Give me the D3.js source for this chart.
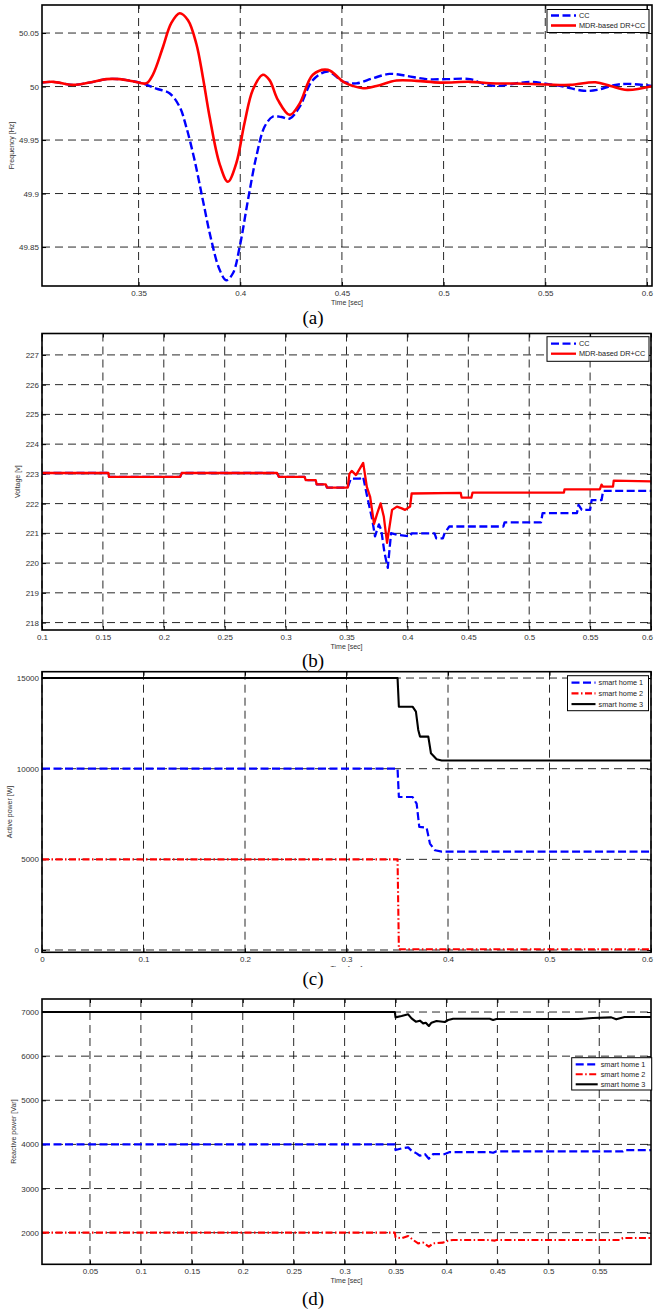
<!DOCTYPE html>
<html>
<head>
<meta charset="utf-8">
<script src="https://cdn.jsdelivr.net/npm/d3@7"></script>
<style>
  body { margin: 0; background: #fff; }
  text { font-family: "Liberation Sans", Arial, sans-serif; }
  .tick text { font-size: 8px; fill: #333; }
  .tick line { stroke: #000; }
  .axisLabel { font-size: 7px; fill: #333; }
  .legendText { font-size: 7.3px; fill: #222; }
  .panelTag { font-family: "Liberation Serif", "Times New Roman", serif; font-size: 19px; fill: #000; }
</style>
</head>
<body>
<div id="my_dataviz"></div>
<script>
// ---- (a) frequency ----
var freqTimeMDR = [0.3025, 0.308, 0.3177, 0.3259, 0.3341, 0.3407, 0.3472, 0.3538, 0.357, 0.362, 0.366, 0.3702, 0.3743, 0.3784, 0.3816, 0.3849, 0.3898, 0.3939, 0.398, 0.4021, 0.4062, 0.4111, 0.4144, 0.4185, 0.4243, 0.4292, 0.4357, 0.4431, 0.4505, 0.4554, 0.4604, 0.467, 0.4768, 0.4867, 0.4982, 0.513, 0.5229, 0.536, 0.5508, 0.5623, 0.5747, 0.5821, 0.5903, 0.6025];
var freqMDR = [50.0037, 50.0044, 50.0016, 50.0037, 50.0069, 50.0069, 50.005, 50.003, 50.011, 50.037, 50.059, 50.0685, 50.062, 50.04, 50.009, 49.972, 49.928, 49.911, 49.928, 49.966, 49.997, 50.011, 50.006, 49.9875, 49.9735, 49.984, 50.011, 50.0156, 50.0047, 50.0006, 49.9984, 50.0006, 50.0056, 50.0053, 50.0037, 50.0044, 50.0031, 50.0028, 50.0019, 50.0016, 50.004, 50.0006, 49.9969, 50.0003];
var freqTimeCC = [0.3025, 0.308, 0.3177, 0.3259, 0.3341, 0.3407, 0.3472, 0.352, 0.3587, 0.3652, 0.3702, 0.3734, 0.3775, 0.3816, 0.3857, 0.3898, 0.3931, 0.3964, 0.3997, 0.4038, 0.4079, 0.412, 0.4161, 0.4202, 0.4243, 0.4292, 0.4357, 0.4431, 0.4505, 0.4571, 0.4653, 0.4735, 0.4817, 0.4916, 0.5015, 0.513, 0.5196, 0.5262, 0.536, 0.5426, 0.5508, 0.559, 0.5689, 0.5755, 0.5837, 0.5903, 0.6025];
var freqCC = [50.0037, 50.0044, 50.0016, 50.0037, 50.0069, 50.0069, 50.005, 50.003, 49.998, 49.9938, 49.981, 49.9626, 49.9315, 49.894, 49.857, 49.829, 49.819, 49.8255, 49.85, 49.894, 49.9346, 49.9626, 49.972, 49.9715, 49.97, 49.981, 50.006, 50.014, 50.0047, 50.003, 50.0078, 50.0118, 50.01, 50.0069, 50.0069, 50.0069, 50.0025, 50.0006, 50.0031, 50.0044, 50.0025, 50.0, 49.996, 49.9969, 50.0012, 50.0025, 50.0006];
var freqXTicks = [0.35, 0.4, 0.45, 0.5, 0.55, 0.6];
var freqYTicks = [49.85, 49.9, 49.95, 50, 50.05];

// ---- (b) voltage ----
var voltTimeMDR = [0.1, 0.1545, 0.155, 0.2134, 0.2148, 0.293, 0.2945, 0.3156, 0.3165, 0.3247, 0.3255, 0.3329, 0.334, 0.351, 0.3524, 0.3543, 0.3578, 0.3637, 0.3667, 0.3694, 0.3726, 0.3753, 0.378, 0.3806, 0.3833, 0.3874, 0.3914, 0.3954, 0.3981, 0.4022, 0.4035, 0.4438, 0.4445, 0.4525, 0.4535, 0.5285, 0.529, 0.558, 0.5594, 0.5605, 0.5688, 0.5694, 0.6];
var voltMDR = [223.03, 223.03, 222.9, 222.9, 223.03, 223.03, 222.9, 222.9, 222.79, 222.79, 222.65, 222.65, 222.54, 222.54, 223.0, 223.1, 222.96, 223.37, 222.56, 222.23, 221.32, 221.68, 222.01, 221.57, 220.68, 221.79, 221.9, 221.84, 221.79, 221.9, 222.34, 222.36, 222.2, 222.2, 222.37, 222.37, 222.48, 222.48, 222.64, 222.57, 222.57, 222.77, 222.75];
var voltTimeCC = [0.1, 0.1545, 0.155, 0.2134, 0.2148, 0.293, 0.2945, 0.3156, 0.3165, 0.3247, 0.3255, 0.3329, 0.334, 0.351, 0.3535, 0.361, 0.3637, 0.3667, 0.3712, 0.3734, 0.3766, 0.3785, 0.3812, 0.3839, 0.3866, 0.3914, 0.4022, 0.4035, 0.4223, 0.4237, 0.4291, 0.4305, 0.4344, 0.4788, 0.4798, 0.5097, 0.511, 0.5392, 0.5405, 0.5432, 0.55, 0.5513, 0.5594, 0.5607, 0.6];
var voltCC = [223.03, 223.03, 222.9, 222.9, 223.03, 223.03, 222.9, 222.9, 222.79, 222.79, 222.65, 222.65, 222.54, 222.54, 222.84, 222.84, 222.9, 222.29, 221.45, 220.9, 221.3, 221.12, 220.34, 219.84, 221.01, 220.95, 220.9, 221.0, 221.0, 220.83, 220.83, 221.0, 221.23, 221.23, 221.37, 221.37, 221.68, 221.68, 221.96, 221.79, 221.79, 222.12, 222.12, 222.43, 222.43];
var voltXTicks = [0.1, 0.15, 0.2, 0.25, 0.3, 0.35, 0.4, 0.45, 0.5, 0.55, 0.6];
var voltYTicks = [218, 219, 220, 221, 222, 223, 224, 225, 226, 227];

// ---- (c) active power ----
var pTime1 = [0, 0.3503, 0.3516, 0.3651, 0.3691, 0.3717, 0.3789, 0.3822, 0.3872, 0.3938, 0.6];
var pHome1 = [10000, 10000, 8440, 8440, 8070, 6790, 6750, 5870, 5500, 5430, 5430];
var pTime2 = [0, 0.3503, 0.3516, 0.6];
var pHome2 = [5000, 5000, 40, 40];
var pTime3 = [0, 0.3503, 0.3516, 0.3651, 0.3684, 0.3707, 0.3724, 0.3806, 0.3832, 0.3888, 0.3938, 0.6];
var pHome3 = [15000, 15000, 13420, 13420, 13150, 12140, 11770, 11770, 10850, 10520, 10450, 10450];
var pXTicks = [0, 0.1, 0.2, 0.3, 0.4, 0.5, 0.6];
var pYTicks = [0, 5000, 10000, 15000];

// ---- (d) reactive power ----
var qTime1 = [0.0029, 0.3493, 0.35, 0.3559, 0.3624, 0.3657, 0.3706, 0.3739, 0.3788, 0.3827, 0.3869, 0.3984, 0.4033, 0.4425, 0.4458, 0.449, 0.5732, 0.5748, 0.6008];
var qHome1 = [4000, 4000, 3872, 3909, 3932, 3857, 3796, 3743, 3781, 3675, 3781, 3781, 3826, 3826, 3811, 3842, 3842, 3872, 3872];
var qTime2 = [0.0029, 0.3493, 0.35, 0.3559, 0.3624, 0.3673, 0.3722, 0.3771, 0.3827, 0.3869, 0.3967, 0.4016, 0.4065, 0.4425, 0.4474, 0.449, 0.5699, 0.5732, 0.6008];
var qHome2 = [2000, 2000, 1894, 1872, 1925, 1834, 1758, 1774, 1683, 1758, 1774, 1819, 1834, 1834, 1819, 1834, 1834, 1879, 1879];
var qTime3 = [0.0029, 0.3493, 0.35, 0.3559, 0.3624, 0.3657, 0.3699, 0.3739, 0.3771, 0.3797, 0.3827, 0.3853, 0.3902, 0.3984, 0.4016, 0.4065, 0.4425, 0.4458, 0.449, 0.5291, 0.534, 0.5438, 0.5618, 0.5667, 0.5748, 0.6008];
var qHome3 = [7000, 7000, 6879, 6909, 6947, 6857, 6781, 6804, 6743, 6758, 6683, 6758, 6796, 6774, 6819, 6849, 6849, 6819, 6842, 6842, 6849, 6864, 6879, 6834, 6887, 6887];
var qXTicks = [0.05, 0.1, 0.15, 0.2, 0.25, 0.3, 0.35, 0.4, 0.45, 0.5, 0.55];
var qYTicks = [2000, 3000, 4000, 5000, 6000, 7000];

// line styles
var blue = "#0000ff", red = "#ff0000";
var dashBlue = "8,3.5", dashDot = "7,2.5,1.5,2.5";

var svg = d3.select("#my_dataviz")
  .append("svg")
    .attr("width", 655)
    .attr("height", 1310);

var fmt = function(d) { return String(+d.toFixed(4)); };

function drawPanel(cfg) {
  var x = d3.scaleLinear().domain(cfg.xDomain).range([cfg.x0, cfg.x1]);
  var y = d3.scaleLinear().domain(cfg.yDomain).range([cfg.y1, cfg.y0]);
  var g = svg.append("g");

  g.append("clipPath").attr("id", "clip" + cfg.id)
    .append("rect")
      .attr("x", cfg.x0).attr("y", cfg.y0)
      .attr("width", cfg.x1 - cfg.x0).attr("height", cfg.y1 - cfg.y0);

  // dashed grid
  g.selectAll(".vgrid")
    .data(cfg.xTicks)
    .enter()
    .append("line")
      .attr("x1", function(d) { return x(d); })
      .attr("x2", function(d) { return x(d); })
      .attr("y1", cfg.y0)
      .attr("y2", cfg.y1)
      .attr("stroke", "#111")
      .attr("stroke-width", 0.9)
      .attr("stroke-dasharray", "8,5");
  g.selectAll(".hgrid")
    .data(cfg.yTicks)
    .enter()
    .append("line")
      .attr("x1", cfg.x0)
      .attr("x2", cfg.x1)
      .attr("y1", function(d) { return y(d); })
      .attr("y2", function(d) { return y(d); })
      .attr("stroke", "#111")
      .attr("stroke-width", 0.9)
      .attr("stroke-dasharray", "8,5");

  // axes (inward ticks)
  var xAxis = g.append("g")
    .attr("transform", "translate(0," + cfg.y1 + ")")
    .call(d3.axisBottom(x).tickValues(cfg.xTicks).tickSizeInner(-4).tickSizeOuter(0).tickPadding(4).tickFormat(fmt));
  xAxis.select(".domain").remove();
  // last label sits at the right edge, nudge it in
  xAxis.selectAll(".tick text")
    .attr("dx", function(d) { return x(d) > cfg.x1 - 3 ? -4 : 0; });

  g.append("g")
    .attr("transform", "translate(" + cfg.x0 + ",0)")
    .call(d3.axisLeft(y).tickValues(cfg.yTicks).tickSizeInner(-4).tickSizeOuter(0).tickPadding(3).tickFormat(fmt))
    .call(function(a) { a.select(".domain").remove(); });
  g.append("g")
    .attr("transform", "translate(0," + cfg.y0 + ")")
    .call(d3.axisTop(x).tickValues(cfg.xTicks).tickSizeInner(-4).tickSizeOuter(0).tickFormat(""))
    .call(function(a) { a.select(".domain").remove(); });
  g.append("g")
    .attr("transform", "translate(" + cfg.x1 + ",0)")
    .call(d3.axisRight(y).tickValues(cfg.yTicks).tickSizeInner(-4).tickSizeOuter(0).tickFormat(""))
    .call(function(a) { a.select(".domain").remove(); });
  g.selectAll(".tick text").attr("font-family", null);

  // series
  var line = d3.line()
    .x(function(d) { return x(d[0]); })
    .y(function(d) { return y(d[1]); })
    .curve(cfg.curve || d3.curveLinear);
  cfg.series.forEach(function(s) {
    g.append("path")
      .datum(d3.zip(s.t, s.v))
      .attr("clip-path", "url(#clip" + cfg.id + ")")
      .attr("fill", "none")
      .attr("stroke", s.color)
      .attr("stroke-width", s.width)
      .attr("stroke-dasharray", s.dash)
      .attr("stroke-linejoin", "round")
      .attr("d", line);
  });

  // frame
  g.append("rect")
    .attr("x", cfg.x0).attr("y", cfg.y0)
    .attr("width", cfg.x1 - cfg.x0).attr("height", cfg.y1 - cfg.y0)
    .attr("fill", "none")
    .attr("stroke", "#000")
    .attr("stroke-width", 1.6);

  // labels
  g.append("text")
    .attr("class", "axisLabel")
    .attr("transform", "translate(" + cfg.yLabelX + "," + (cfg.y0 + cfg.y1) / 2 + ") rotate(-90)")
    .attr("text-anchor", "middle")
    .text(cfg.yLabel);
  g.append("text")
    .attr("class", "axisLabel")
    .attr("x", (cfg.x0 + cfg.x1) / 2)
    .attr("y", cfg.y1 + 19)
    .attr("text-anchor", "middle")
    .text("Time [sec]");

  // legend
  var L = cfg.legend;
  g.append("rect")
    .attr("x", L.x).attr("y", L.y)
    .attr("width", L.w).attr("height", L.h)
    .attr("fill", "#fff")
    .attr("stroke", "#000")
    .attr("stroke-width", 1);
  cfg.series.forEach(function(s, i) {
    var ly = L.y + L.first + i * L.step;
    g.append("line")
      .attr("x1", L.x + 4).attr("x2", L.x + 4 + L.sample)
      .attr("y1", ly).attr("y2", ly)
      .attr("stroke", s.color)
      .attr("stroke-width", s.width)
      .attr("stroke-dasharray", s.dash);
    g.append("text")
      .attr("class", "legendText")
      .attr("x", L.x + 7 + L.sample)
      .attr("y", ly)
      .attr("dy", "0.35em")
      .text(s.name);
  });

  // in (c) the panel tag sits over the time label
  if (cfg.cover) {
    g.append("rect")
      .attr("x", 250).attr("y", cfg.cover)
      .attr("width", 180).attr("height", 30)
      .attr("fill", "#fff");
  }

  g.append("text")
    .attr("class", "panelTag")
    .attr("x", 313)
    .attr("y", cfg.tagY)
    .attr("text-anchor", "middle")
    .text(cfg.tag);
}

drawPanel({
  id: "a", x0: 42, x1: 652, y0: 5, y1: 286,
  xDomain: [0.3025, 0.6025], yDomain: [49.8136, 50.0762],
  xTicks: freqXTicks, yTicks: freqYTicks,
  yLabel: "Frequency [Hz]", yLabelX: 14,
  curve: d3.curveCatmullRom.alpha(0.5),
  series: [
    {name: "CC", t: freqTimeCC, v: freqCC, color: blue, width: 2.4, dash: dashBlue},
    {name: "MDR-based DR+CC", t: freqTimeMDR, v: freqMDR, color: red, width: 2.6, dash: null}
  ],
  legend: {x: 547, y: 9.5, w: 102, h: 23, first: 6, step: 10, sample: 25},
  tag: "(a)", tagY: 323.5
});

drawPanel({
  id: "b", x0: 42, x1: 651, y0: 333.5, y1: 630,
  xDomain: [0.1, 0.6], yDomain: [217.75, 227.72],
  xTicks: voltXTicks, yTicks: voltYTicks,
  yLabel: "Voltage [v]", yLabelX: 20,
  series: [
    {name: "CC", t: voltTimeCC, v: voltCC, color: blue, width: 2.3, dash: dashBlue},
    {name: "MDR-based DR+CC", t: voltTimeMDR, v: voltMDR, color: red, width: 2.3, dash: null}
  ],
  legend: {x: 547, y: 336.7, w: 102, h: 24.6, first: 7, step: 10, sample: 25},
  tag: "(b)", tagY: 666.5
});

drawPanel({
  id: "c", x0: 42, x1: 651, y0: 671.7, y1: 952.3,
  xDomain: [0, 0.6], yDomain: [-127, 15350],
  xTicks: pXTicks, yTicks: pYTicks,
  yLabel: "Active power [W]", yLabelX: 12,
  series: [
    {name: "smart home 1", t: pTime1, v: pHome1, color: blue, width: 2.2, dash: dashBlue},
    {name: "smart home 2", t: pTime2, v: pHome2, color: red, width: 2.1, dash: dashDot},
    {name: "smart home 3", t: pTime3, v: pHome3, color: "#000", width: 2.1, dash: null}
  ],
  legend: {x: 567.5, y: 675.7, w: 81, h: 35, first: 7, step: 10.7, sample: 24},
  cover: 967,
  tag: "(c)", tagY: 984.5
});

drawPanel({
  id: "d", x0: 42, x1: 651, y0: 999, y1: 1264.3,
  xDomain: [0.0029, 0.6008], yDomain: [1283, 7295],
  xTicks: qXTicks, yTicks: qYTicks,
  yLabel: "Reactive power [Var]", yLabelX: 16,
  series: [
    {name: "smart home 1", t: qTime1, v: qHome1, color: blue, width: 2.2, dash: dashBlue},
    {name: "smart home 2", t: qTime2, v: qHome2, color: red, width: 2.1, dash: dashDot},
    {name: "smart home 3", t: qTime3, v: qHome3, color: "#000", width: 2.1, dash: null}
  ],
  legend: {x: 571.7, y: 1057.7, w: 80, h: 32.3, first: 6.6, step: 10, sample: 22},
  tag: "(d)", tagY: 1304.5
});
</script>
</body>
</html>
